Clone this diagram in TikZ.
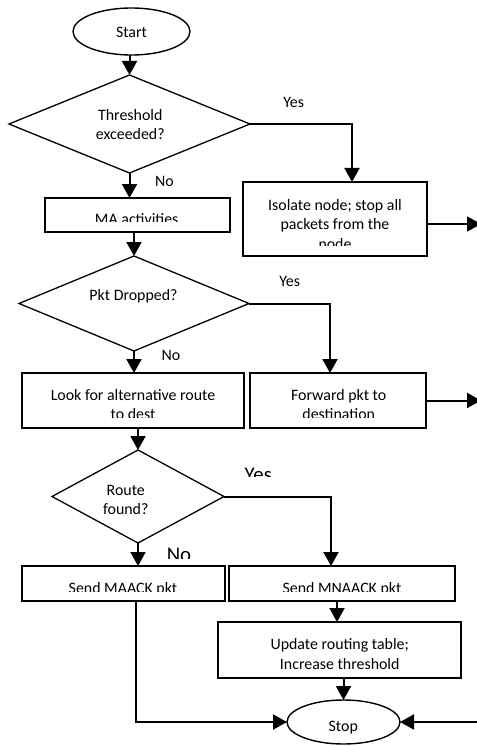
\documentclass[tikz,border=0pt]{standalone}
\usepackage{fontspec}
\setmainfont{Carlito}
\usetikzlibrary{shapes.geometric,arrows.meta}
\begin{document}
\begin{tikzpicture}[x=1pt,y=-1pt,
  box/.style={draw, line width=1.5pt, rectangle, inner sep=0pt, outer sep=0pt},
  dia/.style={draw, line width=1.3pt, diamond, inner sep=0pt, outer sep=0pt},
  term/.style={draw, line width=1.4pt, ellipse, inner sep=0pt, outer sep=0pt},
  txt/.style={font=\fontsize{15.9}{19.5}\selectfont, anchor=base, inner sep=0pt},
  bigtxt/.style={font=\fontsize{20.8}{24}\selectfont, anchor=base, inner sep=0pt},
  arr/.style={line width=2pt, -{Triangle[width=15pt,length=14pt]}},
  ln/.style={line width=2pt}
]
\useasboundingbox (0,0) rectangle (476,746);

% shapes
\node[term, minimum width=117pt, minimum height=47pt] (start) at (131.5,31.5) {};
\node[dia, minimum width=241pt, minimum height=98pt] (d1) at (129.5,124) {};
\node[box, minimum width=185pt, minimum height=34pt] (ma) at (137.5,215) {};
\node[box, minimum width=184pt, minimum height=74pt] (iso) at (335,219) {};
\node[dia, minimum width=230pt, minimum height=95pt] (d2) at (134,303.5) {};
\node[box, minimum width=222pt, minimum height=55pt] (look) at (133,400.5) {};
\node[box, minimum width=176pt, minimum height=55pt] (fwd) at (338,400.5) {};
\node[dia, minimum width=172pt, minimum height=93pt] (d3) at (138,496.5) {};
\node[box, minimum width=203pt, minimum height=35pt] (maack) at (123.5,583.5) {};
\node[box, minimum width=226pt, minimum height=35pt] (mnaack) at (342,583.5) {};
\node[box, minimum width=243pt, minimum height=56pt] (upd) at (339.5,650) {};
\node[term, minimum width=113pt, minimum height=44pt] (stop) at (343.5,722) {};

% texts
\node[txt] (tstart) at (131.5,38) {Start};
\node[txt] (td1a) at (130.3,120.7) {Threshold};
\node[txt] (td1b) at (130.3,140) {exceeded?};
\node[txt] (tyes1) at (293.7,108) {Yes};
\node[txt] (tno1) at (164.5,186) {No};
\begin{scope}
  \clip (45,198) rectangle (230,221);
  \node[txt] (tma) at (136.7,224.5) {MA activities};
\end{scope}
\begin{scope}
  \clip (243,182) rectangle (427,245);
  \node[txt] (tiso1) at (335,210) {Isolate node; stop all};
  \node[txt] (tiso2) at (335,229.5) {packets from the};
  \node[txt] (tiso3) at (335,249) {node};
\end{scope}
\node[txt] (tyes2) at (289.7,286) {Yes};
\node[txt] (td2) at (133.5,300) {Pkt Dropped?};
\node[txt] (tno2) at (171,360.7) {No};
\begin{scope}
  \clip (22,373) rectangle (244,417.5);
  \node[txt] (tlook1) at (133,400) {Look for alternative route};
  \node[txt] (tlook2) at (133,419.5) {to dest};
\end{scope}
\begin{scope}
  \clip (250,373) rectangle (426,417.5);
  \node[txt] (tfwd1) at (338.7,400) {Forward pkt to};
  \node[txt] (tfwd2) at (338.7,419.5) {destination};
\end{scope}
\begin{scope}
  \clip (230,455) rectangle (300,476);
  \node[bigtxt] (tyes3) at (258.3,481) {Yes};
\end{scope}
\node[txt] (td3a) at (125.8,495) {Route};
\node[txt] (td3b) at (125.8,514) {found?};
\begin{scope}
  \clip (155,535) rectangle (210,558);
  \node[bigtxt] (tno3) at (179,561) {No};
\end{scope}
\begin{scope}
  \clip (22,566) rectangle (225,591);
  \node[txt] (tmaack) at (123,593) {Send MAACK pkt};
\end{scope}
\begin{scope}
  \clip (229,566) rectangle (455,591);
  \node[txt] (tmnaack) at (342,593) {Send MNAACK pkt};
\end{scope}
\node[txt] (tupd1) at (339.7,649.3) {Update routing table;};
\node[txt] (tupd2) at (339.7,669) {Increase threshold};
\node[txt] (tstop) at (343.3,731.5) {Stop};

% helper coordinates
\coordinate (c1) at (352,0);
\coordinate (c2) at (330,0);
\coordinate (c3) at (331,0);
\coordinate (c4) at (337,0);
\coordinate (c5) at (136,0);
\coordinate (e1) at (481,224);
\coordinate (e3) at (478,721);

% connectors
\draw[arr] (start.south -| d1.north) -- (d1.north);
\draw[arr] (d1.east) -| (c1 |- iso.north);
\draw[arr] (d1.south) -- (d1.south |- ma.north);
\draw[arr] (ma.south -| d2.north) -- (d2.north);
\draw[arr] (iso.east |- e1) -- (e1);
\draw[arr] (d2.east) -| (c2 |- fwd.north);
\draw[arr] (d2.south) -- (d2.south |- look.north);
\draw[arr] (fwd.east) -- (fwd.east -| e1);
\draw[arr] (look.south -| d3.north) -- (d3.north);
\draw[arr] (d3.east) -| (c3 |- mnaack.north);
\draw[arr] (d3.south) -- (d3.south |- maack.north);
\draw[arr] (mnaack.south -| c4) -- (upd.north -| c4);
\draw[arr] (upd.south -| stop.north) -- (stop.north);
\draw[arr] (maack.south -| c5) |- (stop.west);
\draw[arr] (e3 |- stop.east) -- (stop.east);
\end{tikzpicture}
\end{document}
